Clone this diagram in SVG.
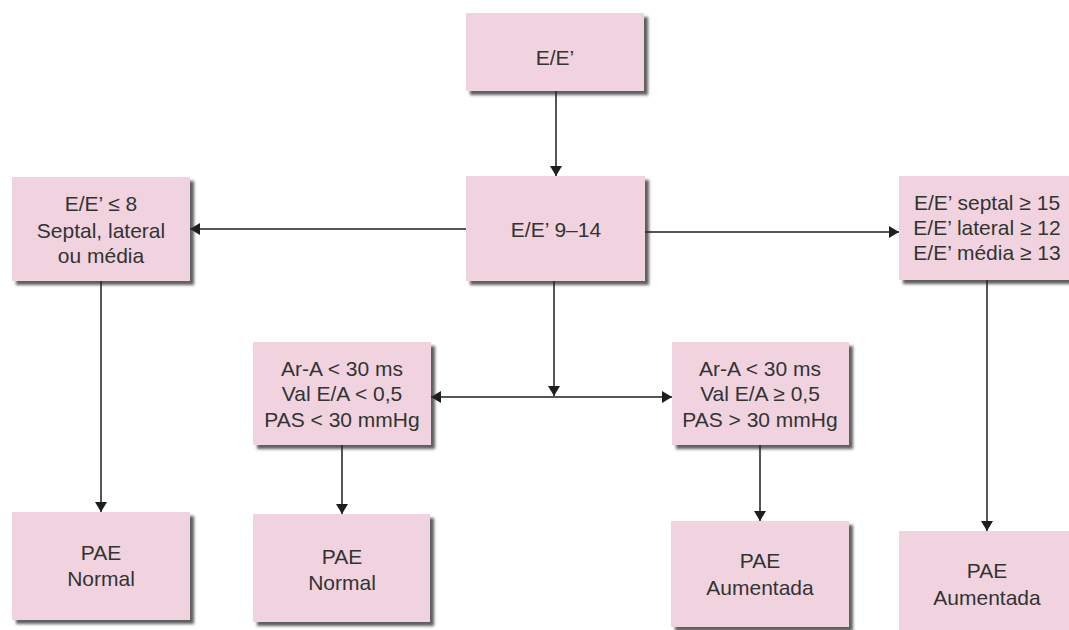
<svg xmlns="http://www.w3.org/2000/svg" width="1069" height="630" viewBox="0 0 1069 630">
  <defs>
    <filter id="shadow" x="-10%" y="-10%" width="125%" height="130%">
      <feDropShadow dx="4" dy="4" stdDeviation="1.8" flood-color="#2a2a2a" flood-opacity="0.75"/>
    </filter>
    <marker id="arrow" viewBox="0 0 10 12" refX="10" refY="6" markerWidth="10" markerHeight="12" markerUnits="userSpaceOnUse" orient="auto-start-reverse">
      <path d="M0,0 L10,6 L0,12 z" fill="#1e1e1e"/>
    </marker>
    <style>
      .box { fill: #f0d3df; filter: url(#shadow); }
      .lbl { font-family: "Liberation Sans", Arial, sans-serif; font-size: 21px; fill: #333333; text-anchor: middle; dominant-baseline: central; }
      .conn { stroke: #1e1e1e; stroke-width: 1.5; fill: none; }
    </style>
  </defs>
  <rect width="1069" height="630" fill="#ffffff"/>

  <!-- connectors -->
  <g id="connectors">
    <line class="conn" x1="556" y1="91" x2="556" y2="176" marker-end="url(#arrow)"/>
    <line class="conn" x1="466" y1="229" x2="190" y2="229" marker-end="url(#arrow)"/>
    <line class="conn" x1="645" y1="232" x2="899" y2="232" marker-end="url(#arrow)"/>
    <line class="conn" x1="554" y1="281" x2="554" y2="396" marker-end="url(#arrow)"/>
    <line class="conn" x1="431" y1="397" x2="672" y2="397" marker-start="url(#arrow)" marker-end="url(#arrow)"/>
    <line class="conn" x1="101" y1="281" x2="101" y2="512" marker-end="url(#arrow)"/>
    <line class="conn" x1="987" y1="280" x2="987" y2="531" marker-end="url(#arrow)"/>
    <line class="conn" x1="342" y1="445" x2="342" y2="514" marker-end="url(#arrow)"/>
    <line class="conn" x1="760" y1="445" x2="760" y2="521" marker-end="url(#arrow)"/>
  </g>

  <!-- nodes -->
  <g id="node-ee">
    <rect class="box" x="466" y="13" width="178" height="78"/>
    <text class="lbl" x="555" y="57">E/E’</text>
  </g>
  <g id="node-ee-9-14">
    <rect class="box" x="466" y="176" width="179" height="105"/>
    <text class="lbl" x="556" y="229">E/E’ 9–14</text>
  </g>
  <g id="node-ee-le8">
    <rect class="box" x="12" y="177" width="178" height="104"/>
    <text class="lbl" x="101" y="203">E/E’ ≤ 8</text>
    <text class="lbl" x="101" y="230">Septal, lateral</text>
    <text class="lbl" x="101" y="255">ou média</text>
  </g>
  <g id="node-ee-high">
    <rect class="box" x="899" y="176" width="176" height="104"/>
    <text class="lbl" x="987" y="202">E/E’ septal ≥ 15</text>
    <text class="lbl" x="987" y="227">E/E’ lateral ≥ 12</text>
    <text class="lbl" x="987" y="252">E/E’ média ≥ 13</text>
  </g>
  <g id="node-ara-low">
    <rect class="box" x="253" y="342" width="178" height="103"/>
    <text class="lbl" x="342" y="368">Ar-A &lt; 30 ms</text>
    <text class="lbl" x="342" y="393">Val E/A &lt; 0,5</text>
    <text class="lbl" x="342" y="419">PAS &lt; 30 mmHg</text>
  </g>
  <g id="node-ara-high">
    <rect class="box" x="672" y="342" width="177" height="103"/>
    <text class="lbl" x="760" y="368">Ar-A &lt; 30 ms</text>
    <text class="lbl" x="760" y="393">Val E/A ≥ 0,5</text>
    <text class="lbl" x="760" y="419">PAS &gt; 30 mmHg</text>
  </g>
  <g id="node-pae-normal-1">
    <rect class="box" x="12" y="512" width="178" height="108"/>
    <text class="lbl" x="101" y="552">PAE</text>
    <text class="lbl" x="101" y="578">Normal</text>
  </g>
  <g id="node-pae-normal-2">
    <rect class="box" x="253" y="514" width="177" height="108"/>
    <text class="lbl" x="342" y="556">PAE</text>
    <text class="lbl" x="342" y="582">Normal</text>
  </g>
  <g id="node-pae-aumentada-1">
    <rect class="box" x="671" y="521" width="178" height="106"/>
    <text class="lbl" x="760" y="560">PAE</text>
    <text class="lbl" x="760" y="587">Aumentada</text>
  </g>
  <g id="node-pae-aumentada-2">
    <rect class="box" x="899" y="531" width="176" height="110"/>
    <text class="lbl" x="987" y="570">PAE</text>
    <text class="lbl" x="987" y="597">Aumentada</text>
  </g>
</svg>
